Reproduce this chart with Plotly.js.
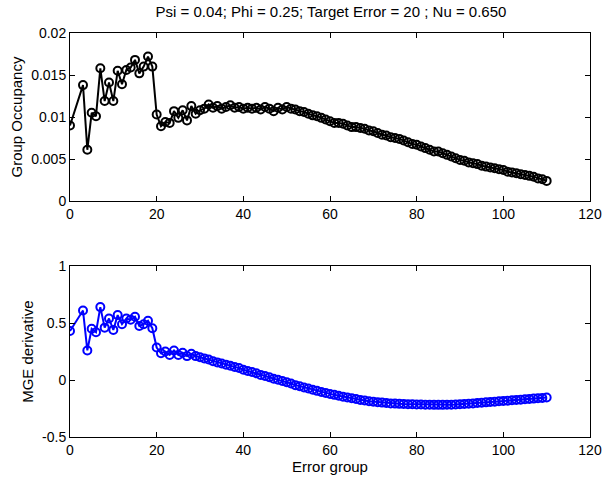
<!DOCTYPE html>
<html>
<head>
<meta charset="utf-8">
<script src="https://cdn.plot.ly/plotly-3.0.1.min.js"></script>
<style>html,body{margin:0;padding:0;background:#fff;}#chart{width:604px;height:486px;}</style>
</head>
<body>
<div id="chart"></div>
<script>
const errorGroup = [0,3,4,5,6,7,8,9,10,11,12,13,14,15,16,17,18,19,20,21,
  22,23,24,25,26,27,28,29,30,31,32,33,34,35,36,37,38,39,40,41,42,43,44,45,46,47,48,49,50,
  51,52,53,54,55,56,57,58,59,60,61,62,63,64,65,66,67,68,69,70,71,72,73,74,75,76,77,78,79,80,
  81,82,83,84,85,86,87,88,89,90,91,92,93,94,95,96,97,98,99,100,101,102,103,104,105,106,107,108,109,110];

const groupOccupancy = [0.0090,0.0138,0.0061,0.0105,0.0101,0.0158,0.0119,0.0141,0.0119,0.0155,0.0139,0.0156,0.0159,0.0168,0.0152,0.0160,0.0172,0.0160,0.0103,0.0089,
  0.0094,0.0093,0.0107,0.0099,0.0108,0.0096,0.0113,0.0104,0.0108,0.0110,0.0115,0.0111,0.0113,0.0110,0.0112,0.0114,0.0111,0.0112,0.0110,0.0111,0.0110,0.0111,0.0109,0.0112,0.0110,0.0107,0.0111,0.0109,0.0112,
  0.0110,0.0109,0.0107,0.0106,0.0104,0.0102,0.0101,0.0099,0.0097,0.0095,0.0093,0.0093,0.0092,0.0090,0.0088,0.0088,0.0087,0.0086,0.0084,0.0083,0.0081,0.0079,0.0078,0.0076,0.0075,0.0074,0.0072,0.0070,0.0068,0.0067,
  0.0065,0.0063,0.0061,0.0059,0.0059,0.0057,0.0055,0.0053,0.0051,0.0049,0.0048,0.0046,0.0045,0.0044,0.0042,0.0041,0.0040,0.0039,0.0038,0.0037,0.0035,0.0034,0.0033,0.0032,0.0031,0.0030,0.0029,0.0027,0.0026,0.0024];

const mgeDerivative = [0.43,0.61,0.26,0.45,0.42,0.64,0.46,0.54,0.44,0.57,0.49,0.54,0.53,0.555,0.475,0.49,0.52,0.455,0.285,0.235,
  0.25,0.22,0.26,0.22,0.24,0.21,0.23,0.21,0.20,0.19,0.18,0.165,0.155,0.145,0.135,0.125,0.115,0.105,0.09,0.08,0.07,0.06,0.045,0.035,0.025,0.012,0.002,-0.008,-0.02,
  -0.03,-0.045,-0.055,-0.065,-0.075,-0.085,-0.095,-0.105,-0.113,-0.122,-0.13,-0.138,-0.146,-0.153,-0.16,-0.167,-0.175,-0.18,-0.186,-0.19,-0.195,-0.198,-0.202,-0.205,-0.207,-0.209,-0.211,-0.212,-0.213,-0.214,
  -0.215,-0.216,-0.217,-0.218,-0.218,-0.218,-0.217,-0.216,-0.215,-0.213,-0.211,-0.208,-0.205,-0.202,-0.199,-0.196,-0.193,-0.19,-0.187,-0.184,-0.181,-0.178,-0.175,-0.172,-0.169,-0.166,-0.163,-0.16,-0.157,-0.154];

const xTicks = [0,20,40,60,80,100,120];
const topTicks = [0,0.005,0.01,0.015,0.02];
const topTickText = ['0','0.005','0.01','0.015','0.02'];
const botTicks = [-0.5,0,0.5,1];
const botTickText = ['-0.5','0','0.5','1'];

const fam = 'Liberation Sans, Arial, sans-serif';
const font = {family: fam, size: 14, color: '#000'};
const tfont = {family: fam, size: 15, color: '#000'};

const traces = [
  {x: errorGroup, y: groupOccupancy, xaxis: 'x', yaxis: 'y', mode: 'lines+markers',
   line: {color: '#000000', width: 2},
   marker: {symbol: 'circle-open', size: 8, color: '#000000', line: {width: 2, color: '#000000'}},
   hoverinfo: 'x+y', showlegend: false},
  {x: errorGroup, y: mgeDerivative, xaxis: 'x2', yaxis: 'y2', mode: 'lines+markers',
   line: {color: '#0000ff', width: 2},
   marker: {symbol: 'circle-open', size: 8, color: '#0000ff', line: {width: 2, color: '#0000ff'}},
   hoverinfo: 'x+y', showlegend: false}
];

const axBase = {showline: true, mirror: 'ticks', linecolor: '#000', linewidth: 1,
  ticks: 'inside', ticklen: 5, tickcolor: '#000', showgrid: false, zeroline: false,
  tickfont: font};

const layout = {
  width: 604, height: 486,
  paper_bgcolor: '#fff', plot_bgcolor: '#fff',
  font: font,
  margin: {l: 70, r: 14, t: 33, b: 49},
  title: {text: 'Psi = 0.04; Phi = 0.25; Target Error = 20 ; Nu = 0.650',
          font: tfont, x: 0.548, xanchor: 'center', y: 0.976, yanchor: 'middle'},
  xaxis: Object.assign({}, axBase, {domain: [0,1], range: [0,120], tickvals: xTicks, anchor: 'y'}),
  yaxis: Object.assign({}, axBase, {domain: [0.584,1], range: [0,0.02], tickvals: topTicks, ticktext: topTickText,
          title: {text: 'Group Occupancy', font: tfont, standoff: 4}, anchor: 'x'}),
  xaxis2: Object.assign({}, axBase, {domain: [0,1], range: [0,120], tickvals: xTicks, anchor: 'y2',
          title: {text: 'Error group', font: tfont, standoff: 0}}),
  yaxis2: Object.assign({}, axBase, {domain: [0,0.423], range: [-0.5,1], tickvals: botTicks, ticktext: botTickText,
          title: {text: 'MGE derivative', font: tfont, standoff: 4}, anchor: 'x2'})
};

Plotly.newPlot('chart', traces, layout, {displayModeBar: false, staticPlot: true});
</script>
</body>
</html>
